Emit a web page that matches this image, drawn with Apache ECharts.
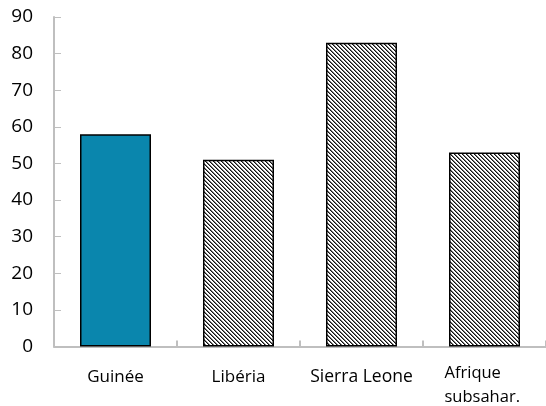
<!DOCTYPE html>
<html>
<head>
<meta charset="utf-8">
<script src="https://cdn.jsdelivr.net/npm/echarts@6/dist/echarts.min.js"></script>
<style>
  html, body { margin: 0; padding: 0; background: #ffffff; }
  #chart { width: 546px; height: 406px; }
</style>
</head>
<body>
<div id="chart"></div>
<script>
// Country groups and their values
const categories = ['Guinée', 'Libéria', 'Sierra Leone', 'Afrique subsahar.'];
const values = [58, 51, 83, 53];
const yTicks = [0, 10, 20, 30, 40, 50, 60, 70, 80, 90];

// Diagonal hatch tile for the comparison bars
function hatchTile() {
  const c = document.createElement('canvas');
  c.width = 4; c.height = 4;
  const g = c.getContext('2d');
  g.fillStyle = '#ffffff';
  g.fillRect(0, 0, 4, 4);
  for (let i = 0; i < 4; i++) {
    g.fillStyle = '#111111';
    g.fillRect(i, i, 1, 1);
    g.fillStyle = '#7a7a7a';
    g.fillRect((i + 1) % 4, i, 1, 1);
  }
  return c;
}
const hatch = { image: hatchTile(), repeat: 'repeat' };

const chart = echarts.init(document.getElementById('chart'), null, { renderer: 'canvas' });

const labelRich = {
  n: { fontSize: 17, color: '#000', fontFamily: 'Open Sans', lineHeight: 32 },
  b: { fontSize: 17.5, color: '#000', fontFamily: 'Open Sans', lineHeight: 32 },
  a: { fontSize: 16.5, color: '#000', fontFamily: 'Open Sans', width: 80, align: 'left', lineHeight: 24 }
};

chart.setOption({
  animation: false,
  grid: { left: 54, right: -8, top: 17, bottom: 56, containLabel: false },
  xAxis: {
    type: 'category',
    data: categories,
    axisLine: { lineStyle: { color: '#bfbfbf', width: 2 } },
    axisTick: { show: true, inside: true, length: 6, lineStyle: { color: '#bfbfbf', width: 2 } },
    axisLabel: {
      margin: 15,
      interval: 0,
      formatter: function (v) {
        if (v === 'Afrique subsahar.') return '{a|Afrique}\n{a|subsahar.}';
        if (v === 'Sierra Leone') return '{b|' + v + '}';
        return '{n|' + v + '}';
      },
      rich: labelRich
    }
  },
  yAxis: {
    type: 'value',
    min: yTicks[0],
    max: yTicks[yTicks.length - 1],
    interval: 10,
    axisLine: { show: true, lineStyle: { color: '#bfbfbf', width: 2 } },
    axisTick: { show: true, inside: true, length: 7, lineStyle: { color: '#bfbfbf', width: 1 } },
    splitLine: { show: false },
    axisLabel: { margin: 21, fontSize: 19, color: '#000', fontFamily: 'Open Sans' }
  },
  series: [{
    type: 'bar',
    barWidth: 71,
    data: values.map(function (v, i) {
      return {
        value: v,
        itemStyle: i === 0
          ? { color: '#0a86ad', borderColor: '#000', borderWidth: 1.5 }
          : { color: hatch, borderColor: '#000', borderWidth: 1.5 }
      };
    })
  }]
});
</script>
</body>
</html>
